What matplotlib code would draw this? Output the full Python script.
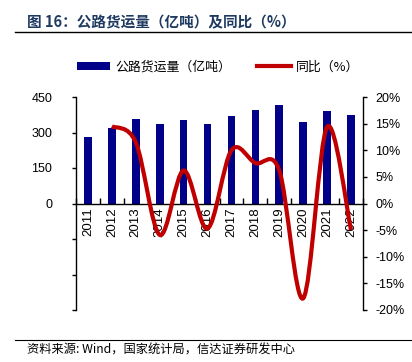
import matplotlib
matplotlib.use("Agg")
import matplotlib.pyplot as plt
from matplotlib.path import Path
from matplotlib.patches import PathPatch
from matplotlib.lines import Line2D
from matplotlib.patches import Patch
import numpy as np

plt.rcParams['font.family'] = ['Liberation Sans', 'Noto Sans CJK SC', 'DejaVu Sans']

years = ['2011', '2012', '2013', '2014', '2015', '2016', '2017', '2018', '2019', '2020', '2021', '2022']
freight = [281, 320, 356, 334, 354, 336, 368, 396, 416, 343, 392, 372]
yoy_years = ['2012', '2013', '2014', '2015', '2016', '2017', '2018', '2019', '2020', '2021', '2022']
yoy = [14.5, 11.5, -5.9, 6.2, -4.7, 10.0, 7.6, 6.2, -17.8, 14.4, -5.0]

bar_color = '#000088'
line_color = '#C00000'

fig = plt.figure(figsize=(4.12, 3.62), dpi=100)
ax = fig.add_axes([76/412, 1-310/362, (363-76)/412, (310-97)/362])
ax2 = ax.twinx()

x = np.arange(len(years))
ax.bar(x, freight, width=0.32, color=bar_color, zorder=2)
ax.set_xlim(-0.5, len(years)-0.5)
ax.set_ylim(-450, 450)
ax.set_yticks([-450, -300, -150, 0, 150, 300, 450])
ax.set_yticklabels(['', '', '', '0', '150', '300', '450'])
ax.tick_params(axis='y', direction='out', length=3, width=1, labelsize=9, pad=14)

ax.spines['top'].set_visible(False)
ax.spines['right'].set_visible(False)
ax.spines['bottom'].set_position(('data', 0))
ax.set_xticks(x)
ax.set_xticklabels(years, rotation=90, fontsize=9.5)
ax.tick_params(axis='x', length=0, pad=3)
ax.set_xticks(np.arange(-0.5, len(years), 1), minor=True)
ax.tick_params(axis='x', which='minor', direction='in', length=4, width=1)

# smoothed line (Bezier through data points via library path)
xi = np.array([years.index(y) for y in yoy_years], dtype=float)
yi = np.array(yoy, dtype=float)
pts = np.column_stack([xi, yi])
verts = [tuple(pts[0])]
codes = [Path.MOVETO]
n = len(pts)
for i in range(n-1):
    p0 = pts[i-1] if i > 0 else pts[i]
    p1 = pts[i]
    p2 = pts[i+1]
    p3 = pts[i+2] if i+2 < n else pts[i+1]
    c1 = p1 + (p2 - p0) / 6.0
    c2 = p2 - (p3 - p1) / 6.0
    verts += [tuple(c1), tuple(c2), tuple(p2)]
    codes += [Path.CURVE4, Path.CURVE4, Path.CURVE4]
path = Path(verts, codes)
ax2.add_patch(PathPatch(path, facecolor='none', edgecolor=line_color, lw=3.0, zorder=3, capstyle='butt'))

ax2.set_ylim(-20, 20)
ax2.set_yticks(np.arange(-20, 21, 5))
ax2.set_yticklabels([f'{v}%' for v in range(-20, 21, 5)])
ax2.tick_params(axis='y', direction='out', length=3, width=1, labelsize=9, pad=6)
for s in ['top', 'left', 'bottom']:
    ax2.spines[s].set_visible(False)
ax2.spines['right'].set_linewidth(1)
ax.spines['left'].set_linewidth(1)
ax.spines['bottom'].set_linewidth(1)

handles = [Patch(facecolor=bar_color, edgecolor='none'),
           Line2D([0], [0], color=line_color, lw=3.0)]
fig.legend(handles, ['公路货运量（亿吨）', '同比（%）'], loc='center',
           bbox_to_anchor=(218/412, 1-67/362), ncol=2, frameon=False,
           prop={'family': ['Noto Sans CJK SC'], 'size': 9.3},
           handlelength=2.6, handleheight=0.5, columnspacing=2.0, handletextpad=0.4)

fig.text(27/412, 1-22/362, '图 16：公路货运量（亿吨）及同比（%）', fontsize=10.5, fontweight='bold',
         color='#1F3A60', va='center', ha='left', family=['Noto Sans CJK SC', 'DejaVu Sans'])
fig.add_artist(Line2D([15/412, 1], [1-32/362, 1-32/362], color='black', lw=1, transform=fig.transFigure))
fig.add_artist(Line2D([15/412, 1], [1-340/362, 1-340/362], color='black', lw=0.8, transform=fig.transFigure))
fig.text(27/412, 1-350/362, '资料来源: Wind，国家统计局，信达证券研发中心', fontsize=8.8, style='italic',
         va='center', ha='left', family=['Noto Sans CJK SC', 'DejaVu Sans'])

fig.savefig('out.png', dpi=100)
